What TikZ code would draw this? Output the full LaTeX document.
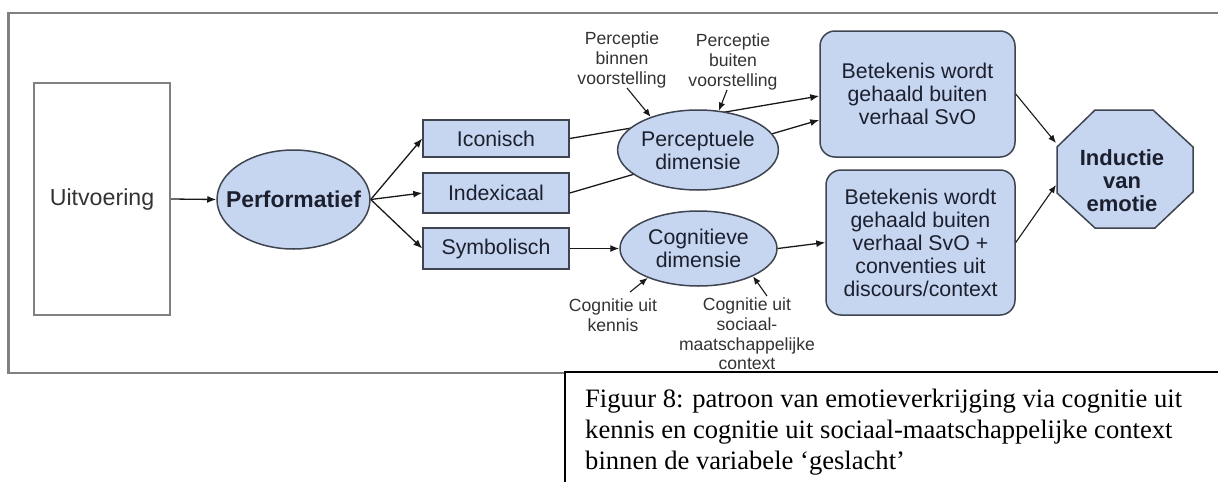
\documentclass[tikz,border=0pt]{standalone}
\usepackage{fontspec}
\setmainfont{Liberation Sans}
\newfontfamily\capfont{Liberation Serif}
\usetikzlibrary{shapes.geometric,arrows.meta}
\definecolor{nodefill}{RGB}{198,213,240}
\definecolor{nodeline}{RGB}{62,68,80}
\definecolor{framegray}{RGB}{128,128,128}
\definecolor{ink}{RGB}{28,32,46}

\begin{document}
\begin{tikzpicture}[x=1pt,y=-1pt,
  lbl/.style={font=\fontsize{21.3}{23}\selectfont, text=ink, align=center},
  boldlbl/.style={font=\bfseries\fontsize{22}{23}\selectfont, text=ink, align=center},
  note/.style={font=\fontsize{17.6}{19.6}\selectfont, text=black!80, align=center, inner sep=0pt},
  bluebox/.style={lbl, draw=nodeline, fill=nodefill, line width=1.5pt, inner sep=0pt},
  oval/.style={bluebox, ellipse},
  rbox/.style={bluebox, rounded corners=15pt},
  arr/.style={-{Latex[length=9pt,width=7pt]}, line width=1.3pt, draw=black!90},
  thinarr/.style={-{Latex[length=8pt,width=6.5pt]}, line width=1.1pt, draw=black!90},
]
\useasboundingbox (0,0) rectangle (1218,482);

% outer frame
\draw[framegray, line width=2.2pt] (1218,13) -- (8.5,13) -- (8.5,373) -- (566,373);

% source box and first oval
\node[lbl, font=\fontsize{23.2}{25}\selectfont, text=black!80, draw=framegray, line width=2pt,
      minimum width=136pt, minimum height=232pt, inner sep=0pt] (uit) at (102,199) {Uitvoering};
\node[oval, minimum width=153pt, minimum height=99pt,
      label={[boldlbl, font=\bfseries\fontsize{22.9}{25}\selectfont]center:Performatief}] (perf) at (293.5,199.5) {};

% sign types
\node[bluebox, minimum width=146pt, minimum height=37pt] (ico) at (496,138.5) {Iconisch};
\node[bluebox, minimum width=146pt, minimum height=40pt] (idx) at (496,193) {Indexicaal};
\node[bluebox, minimum width=146pt, minimum height=41pt] (sym) at (496,248.5) {Symbolisch};

% meaning boxes
\node[rbox, minimum width=195pt, minimum height=126pt] (bet1) at (917.5,94) {Betekenis wordt\\gehaald buiten\\verhaal SvO};
\node[rbox, minimum width=189pt, minimum height=145pt] (bet2) at (920.5,242.5) {Betekenis wordt\\gehaald buiten\\verhaal SvO +\\conventies uit\\discours/context};

% octagon
\coordinate (o1) at (1095,110);
\coordinate (o2) at (1153,110);
\coordinate (o3) at (1193,147);
\coordinate (o4) at (1193,192);
\coordinate (o5) at (1155,228);
\coordinate (o6) at (1095,228);
\coordinate (o7) at (1057,193);
\coordinate (o8) at (1057,147);
\filldraw[fill=nodefill, draw=nodeline, line width=1.5pt]
  (o1) -- (o2) -- (o3) -- (o4) -- (o5) -- (o6) -- (o7) -- (o8) -- cycle;
\node[boldlbl, inner sep=0pt] (ind) at (1122,181) {Inductie\\van\\emotie};
\coordinate (indA) at (1056,143);
\coordinate (indB) at (1056,185);

% connectors that pass behind the perceptual oval
\draw[arr] (ico.east) -- ([yshift=-2pt]bet1.west);
\draw[arr] (idx.east) -- ([yshift=-26pt]bet1.west);

% dimension ovals
\node[oval, minimum width=158pt, minimum height=80pt] (perc) at (698,150) {Perceptuele\\dimensie};
\node[oval, minimum width=157pt, minimum height=75pt] (cog) at (698.5,248.5) {Cognitieve\\dimensie};

% main flow
\draw[arr] (uit.east) -- (perf.west);
\draw[arr] (perf.east) -- (ico.west);
\draw[arr] (perf.east) -- (idx.west);
\draw[arr] (perf.east) -- (sym.west);
\draw[arr] (sym.east) -- (cog.west);
\draw[arr] (cog.east) -- (bet2.west);
\draw[thinarr] (bet1.east) -- (indA);
\draw[thinarr] (bet2.east) -- (indB);

% annotations
\node[note] (pbin) at (622,60) {Perceptie\\binnen\\voorstelling};
\node[note] (pbui) at (733,62) {Perceptie\\buiten\\voorstelling};
\node[note] (cken) at (613,315) {Cognitie uit\\kennis};
\node[note] (csoc) at (747,334) {Cognitie uit\\sociaal-\\maatschappelijke\\context};
\coordinate (pbinT) at (627,88);
\coordinate (pbuiT) at (727,90);
\coordinate (ckenT) at (630,292);
\coordinate (csocT) at (767,296);
\draw[thinarr] (pbinT) -- (perc.145);
\draw[thinarr] (pbuiT) -- (perc.62);
\draw[thinarr] (ckenT) -- (cog.210);
\draw[thinarr] (csocT) -- (cog.333);

% caption box
\fill[white] (565,372) rectangle (1218,482);
\draw[black, line width=1.6pt] (565,482) -- (565,372) -- (1218,372);
\node[anchor=north west, inner sep=0pt, align=left,
      font=\capfont\fontsize{26.6}{30.8}\selectfont] (cap) at (585,389)
  {Figuur 8: patroon van emotieverkrijging via cognitie uit\\
   kennis en cognitie uit sociaal-maatschappelijke context\\
   binnen de variabele ‘geslacht’};
\end{tikzpicture}
\end{document}
